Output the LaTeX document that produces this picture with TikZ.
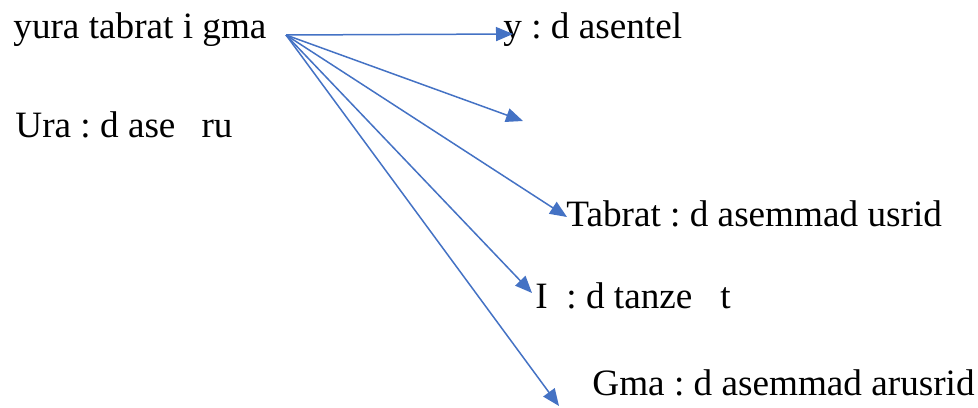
\documentclass[tikz,border=0pt]{standalone}
\usepackage{fontspec}
\setmainfont{Liberation Serif}
\usetikzlibrary{arrows.meta}
\definecolor{wordblue}{HTML}{4472C4}
\frenchspacing
\tikzset{
    word/.style = {anchor=base west,
                   inner sep=0pt,
                   text=black,
                   font=\fontsize{18.6}{22}\selectfont},
    link/.style = {color=wordblue,
                   line width=0.75pt,
                   -{Triangle[length=8.5pt,width=7pt]}}
}

\begin{document}
\begin{tikzpicture}[x=0.5pt,y=-0.5pt]
        \useasboundingbox (0,0) rectangle (978,407);
                \node[word] (sent)  at (13,38)   {yura tabrat i gma};
                \node[word] (ura)   at (15,137)  {Ura : d ase\hspace{0.7em}ru};
                \node[word] (verb)  at (503,38)  {y : d asentel};
                \node[word] (tabr)  at (566,226) {Tabrat : d asemmad usrid};
                \node[word] (prep)  at (535,308) {I\hspace{0.5em}: d tanze\hspace{0.75em}t};
                \node[word] (gma)   at (592,395) {Gma : d asemmad arusrid};

                \coordinate (hub)  at (286,35);
                \coordinate (tipA) at (513,34);
                \coordinate (tipB) at (523,121);
                \coordinate (tipC) at (567,217);
                \coordinate (tipD) at (532,293);
                \coordinate (tipE) at (559,406);

                \path [link]    (hub) edge []   node [] {} (tipA)
                                (hub) edge []   node [] {} (tipB)
                                (hub) edge []   node [] {} (tipC)
                                (hub) edge []   node [] {} (tipD)
                                (hub) edge []   node [] {} (tipE);
        \end{tikzpicture}
\end{document}
